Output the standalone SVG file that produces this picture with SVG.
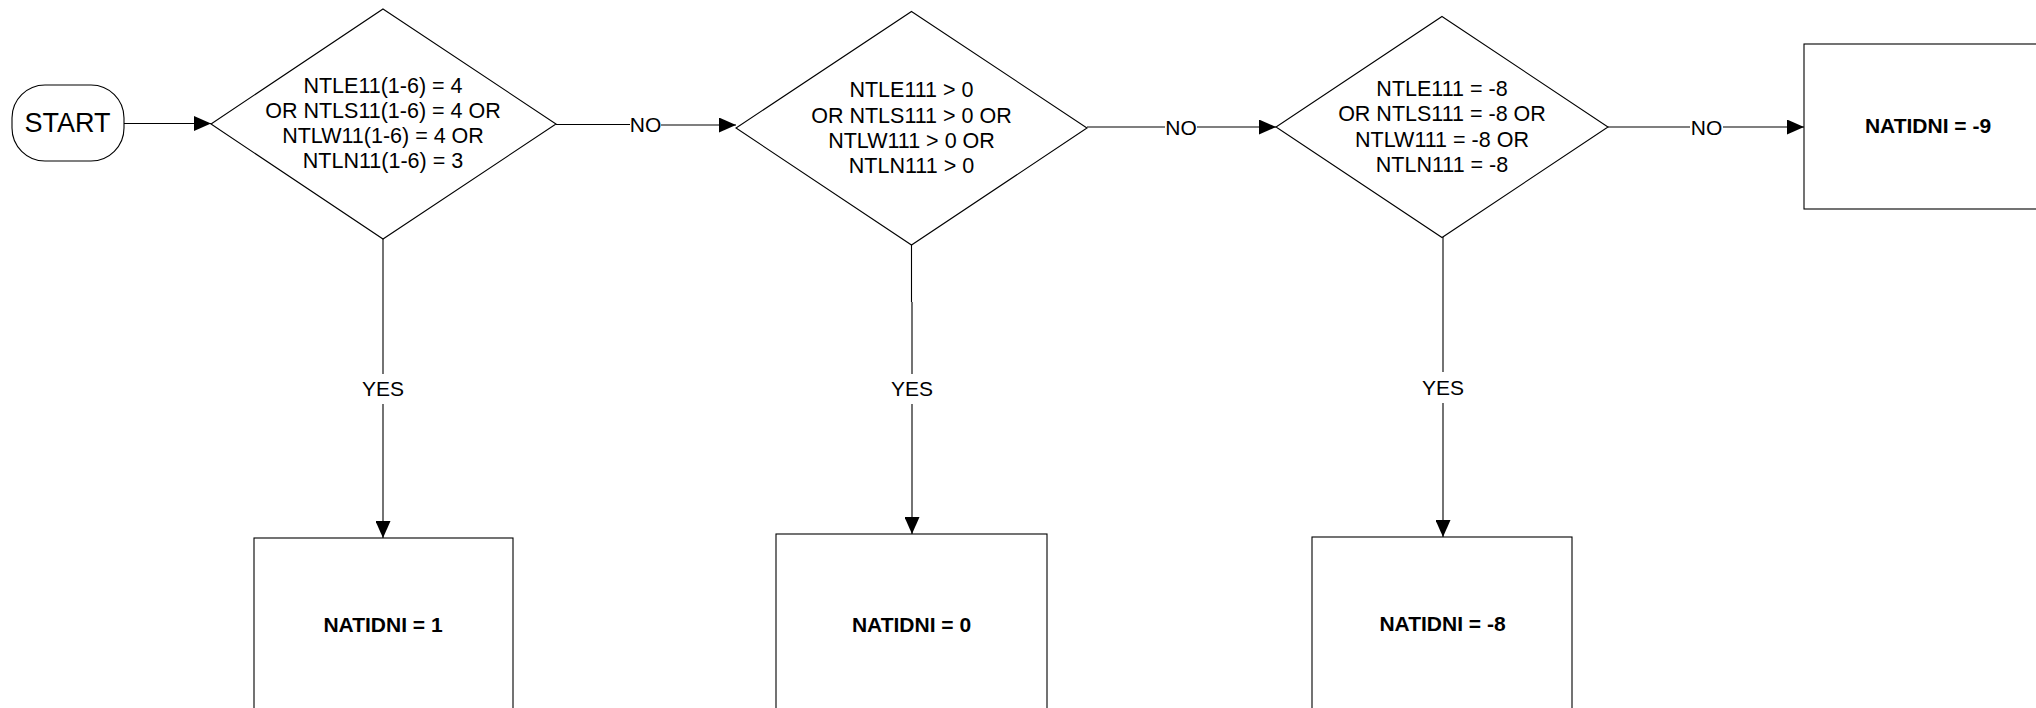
<svg xmlns="http://www.w3.org/2000/svg" width="2036" height="708" viewBox="0 0 2036 708">
<style>
  .shape { fill: #ffffff; stroke: #000000; stroke-width: 1.1; }
  .conn { fill: none; stroke: #000000; stroke-width: 1.1; }
  .t { font-family: "Liberation Sans", Arial, sans-serif; fill: #000000; text-anchor: middle; }
  .cond { font-size: 21.5px; }
  .lbl { font-size: 21px; }
  .res { font-size: 21px; font-weight: bold; }
  .start { font-size: 27px; }
</style>
<defs>
  <marker id="arrow" viewBox="0 0 17 15" refX="17" refY="7.5" markerWidth="17" markerHeight="15" markerUnits="userSpaceOnUse" orient="auto">
    <path d="M0,0 L17,7.5 L0,15 z" fill="#000000"/>
  </marker>
</defs>
<rect width="2036" height="708" fill="#ffffff"/>

<g id="connectors">
  <path class="conn" d="M124,123.5 H211" marker-end="url(#arrow)"/>
  <path class="conn" d="M556,124.5 H630"/>
  <path class="conn" d="M661,125 H736" marker-end="url(#arrow)"/>
  <path class="conn" d="M1087,127 H1165"/>
  <path class="conn" d="M1197,127 H1276" marker-end="url(#arrow)"/>
  <path class="conn" d="M1608,127 H1690"/>
  <path class="conn" d="M1723,127 H1804" marker-end="url(#arrow)"/>
  <path class="conn" d="M383,239 V374"/>
  <path class="conn" d="M383,404 V538" marker-end="url(#arrow)"/>
  <path class="conn" d="M911.5,245 V302 M912,302 V374"/>
  <path class="conn" d="M912,404 V534" marker-end="url(#arrow)"/>
  <path class="conn" d="M1443,237 V372"/>
  <path class="conn" d="M1443,403 V537" marker-end="url(#arrow)"/>
  <text class="t lbl" x="645.5" y="132">NO</text>
  <text class="t lbl" x="1181" y="134.5">NO</text>
  <text class="t lbl" x="1706.5" y="134.5">NO</text>
  <text class="t lbl" x="383" y="395.5">YES</text>
  <text class="t lbl" x="912" y="395.5">YES</text>
  <text class="t lbl" x="1443" y="394.5">YES</text>
</g>

<g id="start">
  <rect class="shape" x="12" y="85" width="112" height="76" rx="33" ry="33"/>
  <text class="t start" x="67.5" y="132">START</text>
</g>

<g id="decision1">
  <polygon class="shape" points="383,9 556,124 383,239 211,124"/>
  <text class="t cond" x="383" y="93">NTLE11(1-6) = 4</text>
  <text class="t cond" x="383" y="118">OR NTLS11(1-6) = 4 OR</text>
  <text class="t cond" x="383" y="143">NTLW11(1-6) = 4 OR</text>
  <text class="t cond" x="383" y="168">NTLN11(1-6) = 3</text>
</g>

<g id="decision2">
  <polygon class="shape" points="911.5,11.5 1087,128 911.5,245 736,128"/>
  <text class="t cond" x="911.5" y="97">NTLE111 &gt; 0</text>
  <text class="t cond" x="911.5" y="122.5">OR NTLS111 &gt; 0 OR</text>
  <text class="t cond" x="911.5" y="148">NTLW111 &gt; 0 OR</text>
  <text class="t cond" x="911.5" y="173">NTLN111 &gt; 0</text>
</g>

<g id="decision3">
  <polygon class="shape" points="1442,16.5 1608,127 1442,237.5 1276,127"/>
  <text class="t cond" x="1442" y="96">NTLE111 = -8</text>
  <text class="t cond" x="1442" y="121">OR NTLS111 = -8 OR</text>
  <text class="t cond" x="1442" y="146.5">NTLW111 = -8 OR</text>
  <text class="t cond" x="1442" y="172">NTLN111 = -8</text>
</g>

<g id="result1">
  <rect class="shape" x="254" y="538" width="259" height="200"/>
  <text class="t res" x="383" y="632">NATIDNI = 1</text>
</g>

<g id="result0">
  <rect class="shape" x="776" y="534" width="271" height="200"/>
  <text class="t res" x="911.5" y="632">NATIDNI = 0</text>
</g>

<g id="resultm8">
  <rect class="shape" x="1312" y="537" width="260" height="200"/>
  <text class="t res" x="1442.5" y="631">NATIDNI = -8</text>
</g>

<g id="resultm9">
  <rect class="shape" x="1804" y="44" width="260" height="165"/>
  <text class="t res" x="1928" y="133">NATIDNI = -9</text>
</g>
</svg>
